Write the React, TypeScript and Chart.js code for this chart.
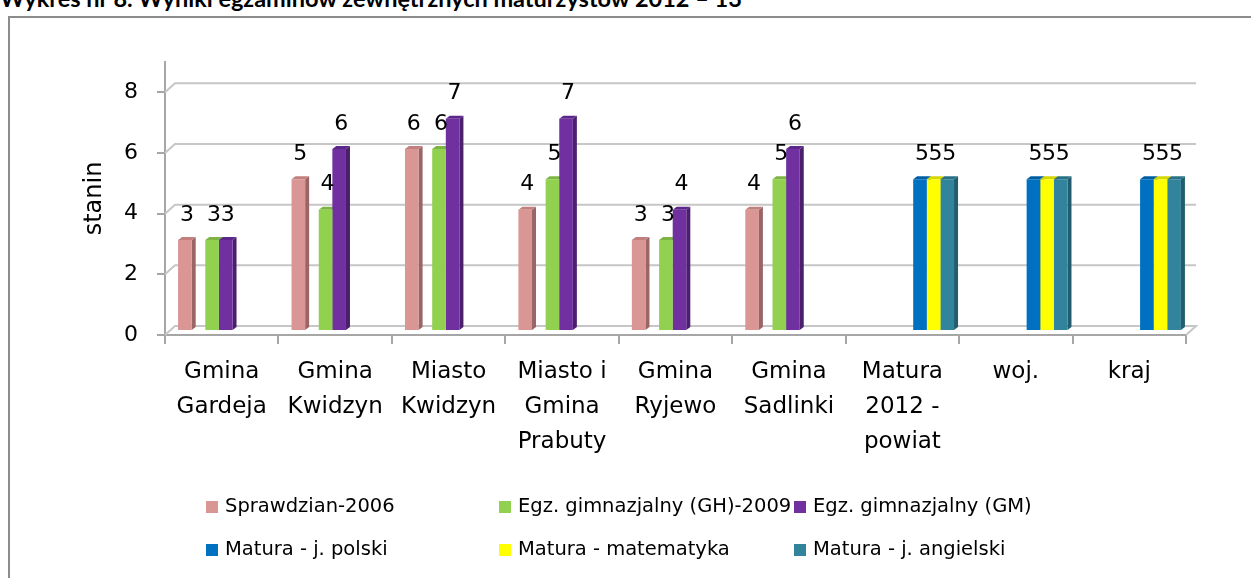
import React, { useEffect, useRef } from 'react';
import { Chart, registerables } from 'chart.js';

Chart.register(...registerables);

const FONT = '"DejaVu Sans", "Open Sans", sans-serif';
const TITLE_FONT = 'Lato, "Open Sans", sans-serif';

const chartTitle = 'Wykres nr 8. Wyniki egzaminów zewnętrznych maturzystów 2012 – 13';
const axisTitle = 'stanin';

const categories = [
  ['Gmina', 'Gardeja'],
  ['Gmina', 'Kwidzyn'],
  ['Miasto', 'Kwidzyn'],
  ['Miasto i', 'Gmina', 'Prabuty'],
  ['Gmina', 'Ryjewo'],
  ['Gmina', 'Sadlinki'],
  ['Matura', '2012 -', 'powiat'],
  ['woj.'],
  ['kraj'],
];

const seriesNames = [
  'Sprawdzian-2006',
  '',
  'Egz. gimnazjalny (GH)-2009',
  'Egz. gimnazjalny (GM)',
  'Matura - j. polski',
  'Matura - matematyka',
  'Matura - j. angielski',
];

const sprawdzian = [3, 5, 6, 4, 3, 4, null, null, null];
const emptySlot = [null, null, null, null, null, null, null, null, null];
const egzGH = [3, 4, 6, 5, 3, 5, null, null, null];
const egzGM = [3, 6, 7, 7, 4, 6, null, null, null];
const maturaPolski = [null, null, null, null, null, null, 5, 5, 5];
const maturaMatematyka = [null, null, null, null, null, null, 5, 5, 5];
const maturaAngielski = [null, null, null, null, null, null, 5, 5, 5];

const yTicks = [0, 2, 4, 6, 8];

const frontColors = ['#d99694', '#ffffff', '#92d050', '#7030a0', '#0070c0', '#ffff00', '#31849b'];
const sideColors = ['#9a6564', '#ffffff', '#62963a', '#4a1f6c', '#004e88', '#b8b800', '#215d6e'];
const topColors = ['#c17f7d', '#ffffff', '#7db443', '#5c278a', '#005ea3', '#d6d600', '#2a7387'];

const WALL_DX = 10;
const WALL_DY = -9;
const BAR_SHIFT_X = 4;
const BAR_SHIFT_Y = -4;
const FACE_DX = 4;
const FACE_DY = -3;

const chart3d = {
  id: 'chart3d',
  beforeDatasetsDraw(chart: any) {
    const { ctx, chartArea } = chart;
    const { left, right } = chartArea;
    const ys = chart.scales.y;
    ctx.save();
    ctx.strokeStyle = '#c6c6c6';
    ctx.lineWidth = 2;
    yTicks.forEach((v) => {
      const py = ys.getPixelForValue(v);
      ctx.beginPath();
      ctx.moveTo(left, py);
      ctx.lineTo(left + WALL_DX, py + WALL_DY);
      ctx.lineTo(right + WALL_DX, py + WALL_DY);
      if (v === 0) ctx.lineTo(right, py);
      ctx.stroke();
    });
    ctx.restore();
    ctx.save();
    ctx.translate(BAR_SHIFT_X, BAR_SHIFT_Y);
    // side and top faces of every bar, drawn before the fronts so that
    // a bar's front hides the side face of its left neighbour
    chart.data.datasets.forEach((ds: any, i: number) => {
      if (!ds.label) return;
      const meta = chart.getDatasetMeta(i);
      meta.data.forEach((el: any, j: number) => {
        const val = ds.data[j];
        if (val === null || val === undefined) return;
        const p = el.getProps(['x', 'y', 'base', 'width'], true);
        const l = p.x - p.width / 2;
        const r = p.x + p.width / 2;
        ctx.fillStyle = ds.sideColor;
        ctx.beginPath();
        ctx.moveTo(r, p.y);
        ctx.lineTo(r + FACE_DX, p.y + FACE_DY);
        ctx.lineTo(r + FACE_DX, p.base + FACE_DY);
        ctx.lineTo(r, p.base);
        ctx.closePath();
        ctx.fill();
        ctx.fillStyle = ds.topColor;
        ctx.beginPath();
        ctx.moveTo(l, p.y);
        ctx.lineTo(l + FACE_DX, p.y + FACE_DY);
        ctx.lineTo(r + FACE_DX, p.y + FACE_DY);
        ctx.lineTo(r, p.y);
        ctx.closePath();
        ctx.fill();
      });
    });
  },
  afterDatasetsDraw(chart: any) {
    const { ctx } = chart;
    ctx.fillStyle = '#000';
    ctx.font = `22px ${FONT}`;
    ctx.textAlign = 'center';
    ctx.textBaseline = 'middle';
    chart.data.datasets.forEach((ds: any, i: number) => {
      if (!ds.label) return;
      const meta = chart.getDatasetMeta(i);
      meta.data.forEach((el: any, j: number) => {
        const val = ds.data[j];
        if (val === null || val === undefined) return;
        ctx.fillText(String(val), el.x + 2, el.y - 25);
      });
    });
    ctx.restore();
  },
  afterDraw(chart: any) {
    const { ctx } = chart;
    const items = chart.data.datasets.filter((d: any) => d.label);
    const colX = [206, 499, 794];
    const rowY = [507, 550];
    ctx.save();
    ctx.font = `19.5px ${FONT}`;
    ctx.textAlign = 'left';
    ctx.textBaseline = 'middle';
    items.forEach((d: any, k: number) => {
      const x = colX[k % 3];
      const y = rowY[Math.floor(k / 3)];
      ctx.fillStyle = d.backgroundColor;
      ctx.fillRect(x, y - 6, 12, 12);
      ctx.fillStyle = '#000';
      ctx.fillText(d.label, x + 19, y);
    });
    ctx.restore();
  },
};

export default function App() {
  const ref = useRef<HTMLCanvasElement>(null);
  useEffect(() => {
    const canvas = ref.current;
    if (!canvas) return;
    const seriesData = [sprawdzian, emptySlot, egzGH, egzGM, maturaPolski, maturaMatematyka, maturaAngielski];
    const datasets = seriesNames.map((name, i) => ({
      label: name,
      data: seriesData[i],
      backgroundColor: frontColors[i],
      sideColor: sideColors[i],
      topColor: topColors[i],
      categoryPercentage: 0.84,
      barPercentage: 1,
      borderWidth: 0,
    }));
    const chart = new Chart(canvas, {
      type: 'bar',
      data: { labels: categories as any, datasets: datasets as any },
      options: {
        responsive: false,
        animation: false,
        devicePixelRatio: 1,
        layout: { padding: { top: 62, right: 65, left: 0, bottom: 0 } },
        plugins: {
          legend: { display: false },
          tooltip: { enabled: false },
        },
        scales: {
          x: {
            grid: { offset: true, drawOnChartArea: false, drawTicks: true, tickLength: 9, color: '#a6a6a6', lineWidth: 2 },
            border: { display: true, color: '#a6a6a6', width: 2 },
            ticks: {
              color: '#000',
              font: { family: FONT, size: 23, lineHeight: 1.53 },
              padding: 10,
              maxRotation: 0,
              autoSkip: false,
            },
            afterFit: (s: any) => { s.height = 243; },
          },
          y: {
            min: 0,
            max: 9,
            afterBuildTicks: (s: any) => { s.ticks = yTicks.map((v) => ({ value: v })); },
            grid: { drawOnChartArea: false, drawTicks: true, tickLength: 8, color: '#a6a6a6', lineWidth: 2 },
            border: { display: true, color: '#a6a6a6', width: 2 },
            ticks: { color: '#000', font: { family: FONT, size: 22 }, padding: 19 },
            title: {
              display: true,
              text: axisTitle,
              color: '#000',
              font: { family: FONT, size: 24 },
              padding: { top: 80, bottom: 0 },
            },
            afterFit: (s: any) => { s.width = 165; },
          },
        },
      } as any,
      plugins: [chart3d as any],
    });
    return () => chart.destroy();
  }, []);

  return (
    <div style={{ position: 'fixed', left: 0, top: 0, width: 1251, height: 578, overflow: 'hidden', background: '#fff' }}>
      <div style={{ position: 'absolute', left: 0, top: -13, whiteSpace: 'nowrap', font: `bold 23.5px ${TITLE_FONT}`, lineHeight: '23px', color: '#000' }}>
        {chartTitle}
      </div>
      <div style={{ position: 'absolute', left: 8, top: 16, width: 1400, height: 700, border: '2px solid #8c8c8c', boxSizing: 'border-box' }} />
      <canvas ref={ref} width={1251} height={578} style={{ position: 'absolute', left: 0, top: 0, width: 1251, height: 578 }} />
    </div>
  );
}
